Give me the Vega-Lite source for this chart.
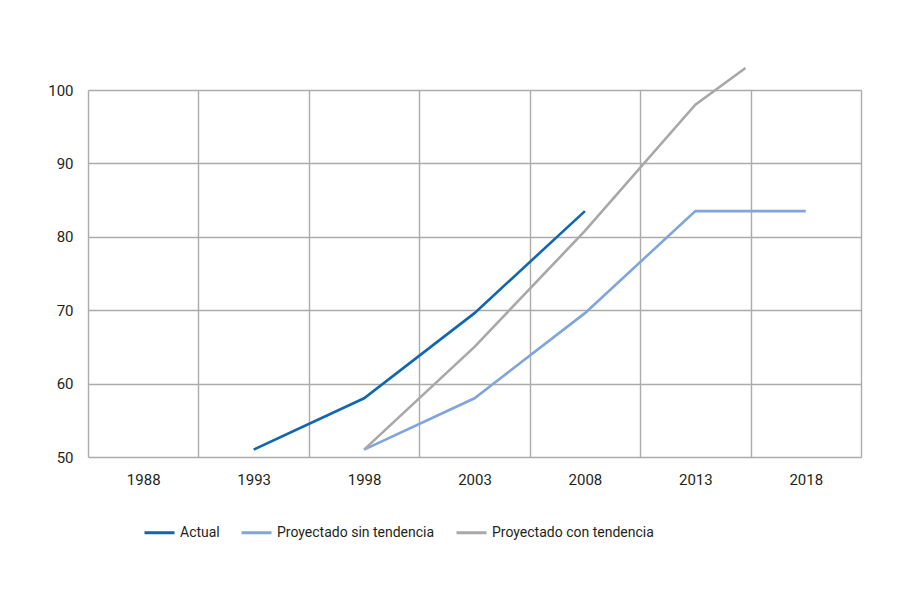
{
  "$schema": "https://vega.github.io/schema/vega-lite/v6.json",
  "width": 773,
  "height": 367,
  "autosize": "none",
  "padding": {"left": 88, "top": 90, "right": 47, "bottom": 136},
  "background": "white",
  "config": {
    "view": {"stroke": null},
    "font": "Roboto",
    "axis": {"labelFont": "Roboto", "labelColor": "#231f20", "labelFontSize": 15}
  },
  "data": {
    "values": [
      {"series": "Actual", "year": 1993, "value": 51},
      {"series": "Actual", "year": 1998, "value": 58},
      {"series": "Actual", "year": 2003, "value": 69.6},
      {"series": "Actual", "year": 2008, "value": 83.5},
      {"series": "Proyectado sin tendencia", "year": 1998, "value": 51},
      {"series": "Proyectado sin tendencia", "year": 2003, "value": 58},
      {"series": "Proyectado sin tendencia", "year": 2008, "value": 69.6},
      {"series": "Proyectado sin tendencia", "year": 2013, "value": 83.5},
      {"series": "Proyectado sin tendencia", "year": 2018, "value": 83.5},
      {"series": "Proyectado con tendencia", "year": 1998, "value": 51},
      {"series": "Proyectado con tendencia", "year": 2003, "value": 65},
      {"series": "Proyectado con tendencia", "year": 2008, "value": 80.8},
      {"series": "Proyectado con tendencia", "year": 2013, "value": 98},
      {"series": "Proyectado con tendencia", "year": 2015.27, "value": 103}
    ]
  },
  "mark": {"type": "line", "strokeWidth": 2.6, "clip": false},
  "encoding": {
    "x": {
      "field": "year",
      "type": "quantitative",
      "scale": {"domain": [1985.5, 2020.5], "nice": false, "zero": false},
      "axis": {
        "title": null,
        "values": [1985.5, 1990.5, 1995.5, 2000.5, 2005.5, 2010.5, 2015.5, 2020.5],
        "labelExpr": "datum.value > 2020 ? '' : format(datum.value + 2.5, 'd')",
        "labelOffset": 55.2,
        "labelPadding": 15,
        "labelAlign": "center",
        "labelFlush": false,
        "labelOverlap": false,
        "ticks": false,
        "domain": false,
        "grid": true,
        "gridColor": "#ababab",
        "gridWidth": 1.4,
        "gridOpacity": 1
      }
    },
    "y": {
      "field": "value",
      "type": "quantitative",
      "scale": {"domain": [50, 100], "nice": false, "zero": false},
      "axis": {
        "title": null,
        "values": [50, 60, 70, 80, 90, 100],
        "labelPadding": 15,
        "ticks": false,
        "domain": false,
        "grid": true,
        "gridColor": "#ababab",
        "gridWidth": 1.4,
        "gridOpacity": 1
      }
    },
    "color": {
      "field": "series",
      "type": "nominal",
      "scale": {
        "domain": ["Actual", "Proyectado sin tendencia", "Proyectado con tendencia"],
        "range": ["#1166b0", "#7fa5da", "#a8a8a8"]
      },
      "legend": {
        "title": null,
        "orient": "none",
        "direction": "horizontal",
        "columns": 3,
        "legendX": 55,
        "legendY": 426,
        "symbolType": "stroke",
        "symbolSize": 900,
        "symbolStrokeWidth": 3,
        "labelFont": "Roboto",
        "labelFontSize": 14,
        "labelLimit": 400,
        "labelColor": "#231f20",
        "labelOffset": 4,
        "columnPadding": 15
      }
    }
  }
}
